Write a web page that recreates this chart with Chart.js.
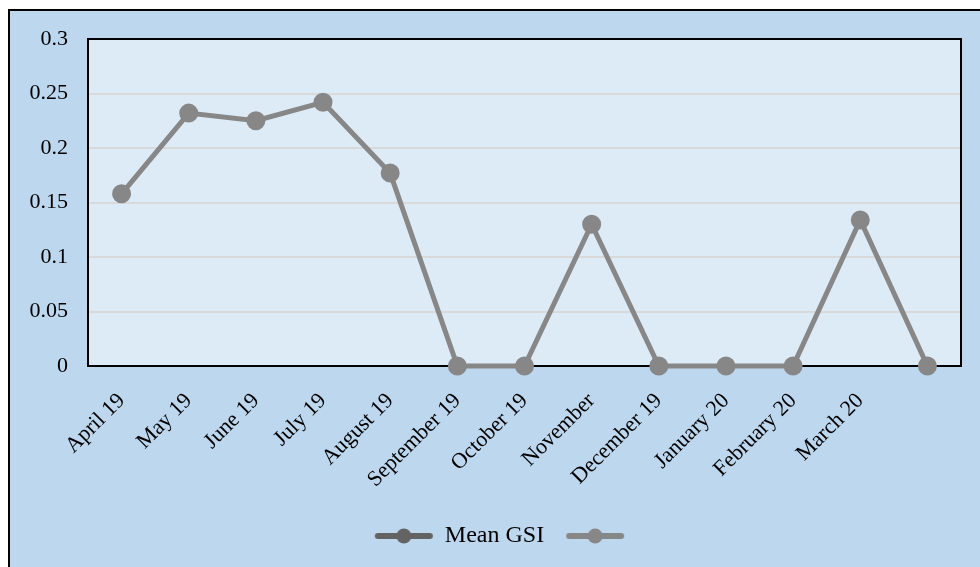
<!DOCTYPE html>
<html>
<head>
<meta charset="utf-8">
<script src="https://cdn.jsdelivr.net/npm/chart.js@4.4.1/dist/chart.umd.min.js"></script>
<style>
  html, body { margin: 0; padding: 0; background: #fff; overflow: hidden; width: 980px; height: 567px; }
  .frame { position: absolute; left: 8px; top: 9px; width: 1000px; height: 600px; border: 2px solid #000; background: #BDD7EE; }
  #chart { position: absolute; left: 0; top: 0; }
</style>
</head>
<body>
<div class="frame"><canvas id="chart" width="970" height="556"></canvas></div>
<script>
const months = ['April 19', 'May 19', 'June 19', 'July 19', 'August 19', 'September 19',
  'October 19', 'November', 'December 19', 'January 20', 'February 20', 'March 20', ''];
const meanGsi = [0.158, 0.232, 0.225, 0.242, 0.177, 0, 0, 0.130, 0, 0, 0, 0.134, 0];
const yTickLabels = ['0', '0.05', '0.1', '0.15', '0.2', '0.25', '0.3'];

const serif = '"Liberation Serif", "Times New Roman", serif';

// legend symbol: short line with a dot in the middle
function legendMark(color) {
  const c = document.createElement('canvas');
  c.width = 60;
  c.height = 18;
  const ctx = c.getContext('2d');
  ctx.strokeStyle = color;
  ctx.lineWidth = 6;
  ctx.lineCap = 'round';
  ctx.beginPath();
  ctx.moveTo(4, 9);
  ctx.lineTo(56, 9);
  ctx.stroke();
  ctx.fillStyle = color;
  ctx.beginPath();
  ctx.arc(30, 9, 7.5, 0, Math.PI * 2);
  ctx.fill();
  return c;
}

const plotBox = {
  id: 'plotBox',
  afterLayout(chart) {
    // legend sits a bit right of the canvas centre in the original
    chart.legend.left += 20;
    chart.legend.right += 20;
  },
  beforeDraw(chart) {
    const { ctx, chartArea: a } = chart;
    ctx.save();
    ctx.fillStyle = '#DDEBF7';
    ctx.fillRect(a.left, a.top, a.right - a.left, a.bottom - a.top);
    ctx.restore();
  },
  beforeDatasetsDraw(chart) {
    const { ctx, chartArea: a } = chart;
    ctx.save();
    ctx.strokeStyle = '#000';
    ctx.lineWidth = 2;
    ctx.strokeRect(a.left, a.top, a.right - a.left, a.bottom - a.top);
    ctx.restore();
  }
};

new Chart(document.getElementById('chart'), {
  type: 'line',
  plugins: [plotBox],
  data: {
    labels: months,
    datasets: [
      {
        label: 'Mean GSI',
        data: [],
        borderColor: '#636363',
        backgroundColor: '#636363',
      },
      {
        label: '',
        data: meanGsi,
        borderColor: '#878787',
        backgroundColor: '#878787',
        borderWidth: 5,
        pointRadius: 7,
        pointHoverRadius: 7,
        tension: 0,
        clip: false,
      }
    ]
  },
  options: {
    responsive: false,
    animation: false,
    layout: { padding: { left: 0, top: 28, right: 19, bottom: 9 } },
    plugins: {
      tooltip: { enabled: false },
      legend: {
        position: 'bottom',
        labels: {
          usePointStyle: true,
          pointStyleWidth: 58,
          padding: 22,
          color: '#000',
          font: { family: serif, size: 24 },
          generateLabels(chart) {
            const marks = [legendMark('#636363'), legendMark('#878787')];
            return chart.data.datasets.map((ds, i) => ({
              text: ds.label,
              pointStyle: marks[i],
              fillStyle: ds.borderColor,
              strokeStyle: ds.borderColor,
              lineWidth: 0,
              fontColor: '#000',
              hidden: false,
              datasetIndex: i,
            }));
          }
        }
      }
    },
    scales: {
      x: {
        offset: true,
        grid: { display: false },
        border: { display: false },
        afterFit(scale) { scale.height = 136; },
        ticks: {
          autoSkip: false,
          minRotation: 45,
          maxRotation: 45,
          padding: 14,
          color: '#000',
          font: { family: serif, size: 22 },
        }
      },
      y: {
        min: 0,
        max: 0.3,
        afterFit(scale) { scale.width = 78; },
        // invisible tick marks give the label gap without padding the top
        grid: { color: '#D9D9D9', lineWidth: 2, drawTicks: true, tickLength: 20, tickColor: 'rgba(0,0,0,0)' },
        border: { display: false },
        ticks: {
          stepSize: 0.05,
          padding: 0,
          color: '#000',
          font: { family: serif, size: 22 },
          callback: (v, i) => yTickLabels[i],
        }
      }
    }
  }
});
</script>
</body>
</html>
